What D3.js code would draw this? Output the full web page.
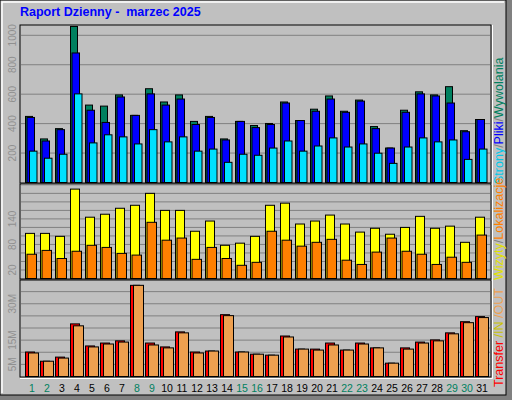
<!DOCTYPE html>
<html><head><meta charset="utf-8">
<script src="https://cdn.jsdelivr.net/npm/d3@7"></script>
<style>body{margin:0;background:#fff}svg{display:block;font-family:"Liberation Sans",Arial,sans-serif}</style>
</head><body>
<svg width="512" height="400"></svg>
<script>
const days = d3.range(1, 32)
const weekend = [1, 2, 8, 9, 15, 16, 22, 23, 29, 30]
const hits  = [449,296,366,1060,526,519,595,456,637,547,595,415,449,296,415,387,401,547,421,498,588,484,560,380,234,491,616,595,651,352,428]
const files = [442,282,359,880,491,408,581,456,602,526,567,394,442,289,415,373,394,540,421,484,567,477,553,366,234,477,602,588,540,345,428]
const pages = [213,165,192,602,269,324,310,262,359,276,310,213,227,137,192,185,234,282,213,248,303,241,262,199,130,241,303,276,289,157,227]
const visits = [106,106,99,210,144,151,165,172,200,160,160,111,135,78,83,99,172,177,128,135,149,128,109,118,104,120,146,118,123,85,144]
const sites  = [57,66,47,64,78,73,59,55,132,90,95,45,73,47,31,38,111,90,76,85,92,43,33,62,95,64,57,33,50,38,102]
const kIn  = [10.1,6.3,8.0,21.7,12.6,13.8,14.7,37.6,13.8,12.2,18.4,10.1,10.5,25.5,10.1,9.2,8.8,16.7,11.3,11.3,13.8,10.9,13.8,11.8,5.5,11.8,14.2,15.1,18.0,22.6,24.7]
const kOut = [9.7,6.3,7.6,20.9,12.2,13.4,14.2,37.6,13.0,11.8,18.0,9.7,10.5,25.1,10.1,9.2,8.8,16.3,11.3,10.9,13.0,10.9,13.4,11.8,5.5,11.3,13.8,14.7,17.6,22.2,24.3]
const topTicks = [200, 400, 600, 800, 1000]
const midTicks = [20, 80, 140]
const botTicks = [5, 15, 30]

const svg = d3.select("svg")
// frame
svg.append("rect").attr("x", 0).attr("y", 0).attr("width", 512).attr("height", 400).attr("fill", "#808080")
svg.append("rect").attr("x", 0).attr("y", 0).attr("width", 506).attr("height", 395).attr("fill", "#c0c0c0")
  .attr("stroke", "#000").attr("stroke-width", 1)
svg.append("path").attr("d", "M2,393V2H504").attr("fill", "none").attr("stroke", "#fff").attr("stroke-width", 1.5)

svg.append("text").attr("x", 20).attr("y", 16).attr("fill", "#0000ff").style("white-space", "pre")
  .attr("font-weight", "bold").attr("font-size", 12.5).text("Raport Dzienny -  marzec 2025")

const x = d3.scaleBand().domain(days).range([21, 486]).paddingInner(0)

const panels = [
  {y0: 25, y1: 183, max: 1070, ticks: topTicks, grid: [200, 400, 600, 800, 1000], fmt: d => d},
  {y0: 184, y1: 279, max: 222, ticks: midTicks, grid: d3.range(20, 221, 20), fmt: d => d},
  {y0: 280, y1: 377, max: 39.8, ticks: botTicks, grid: d3.range(5, 39, 5), fmt: d => d + "M"}
]
panels.forEach(p => {
  p.scale = d3.scaleLinear().domain([0, p.max]).range([p.y1 - 0.5, p.y0])
  svg.append("rect").attr("x", 20).attr("y", p.y0).attr("width", 471).attr("height", p.y1 - p.y0)
    .attr("fill", "#c0c0c0").attr("stroke", "#000")
  svg.append("path").attr("d", `M20,${p.y1 + 1.5}H492.5V${p.y0}`).attr("fill", "none").attr("stroke", "#fff")
  svg.append("g").selectAll("line").data(p.grid).join("line")
    .attr("x1", 21).attr("x2", 490).attr("y1", d => p.scale(d)).attr("y2", d => p.scale(d))
    .attr("stroke", "#808080")
  svg.append("g").selectAll("text").data(p.ticks).join("text")
    .attr("transform", d => `translate(16,${p.scale(d)}) rotate(-90)`)
    .attr("text-anchor", "middle").attr("font-size", 10).attr("fill", "#909090")
    .text(p.fmt)
})

function bars(panel, vals, off, w, color) {
  const s = panel.scale
  svg.append("g").selectAll("rect").data(vals).join("rect")
    .attr("x", (d, i) => x(days[i]) + off).attr("width", w)
    .attr("y", d => s(d)).attr("height", d => s(0) - s(d))
    .attr("fill", color).attr("stroke", "#000").attr("stroke-width", 1)
}
bars(panels[0], hits, 4.5, 7, "#00805f")
bars(panels[0], files, 6, 7.5, "#0000ff")
bars(panels[0], pages, 8.5, 7.5, "#00e0ff")
bars(panels[1], visits, 4.5, 9, "#ffff00")
bars(panels[1], sites, 6, 9.5, "#ff8000")
bars(panels[2], kIn, 4.5, 9, "#ff0000")
bars(panels[2], kOut, 7.5, 10, "#eea050")

svg.append("g").selectAll("text").data(days).join("text")
  .attr("x", d => x(d) + 11).attr("y", 392).attr("text-anchor", "middle")
  .attr("font-size", 10.5).attr("fill", d => weekend.includes(d) ? "#00805f" : "#000").text(d => d)

function legend(y, parts) {
  const t = svg.append("text").attr("transform", `translate(503,${y}) rotate(-90)`)
    .attr("font-size", 12.5).style("white-space", "pre")
  parts.forEach(([s, c]) => t.append("tspan").attr("fill", c).text(s))
}
legend(184, [["Strony", "#00c8e8"], ["/", "#808080"], ["Pliki", "#0000ff"], ["/", "#808080"], ["Wywolania", "#00805f"]])
legend(280, [["Wizyty", "#e0e000"], ["/", "#808080"], ["Lokalizacje", "#ff8000"]])
legend(387, [["Transfer", "#ff0000"], [" /IN", "#c8c000"], [" /OUT", "#eea050"]])
</script>
</body></html>
